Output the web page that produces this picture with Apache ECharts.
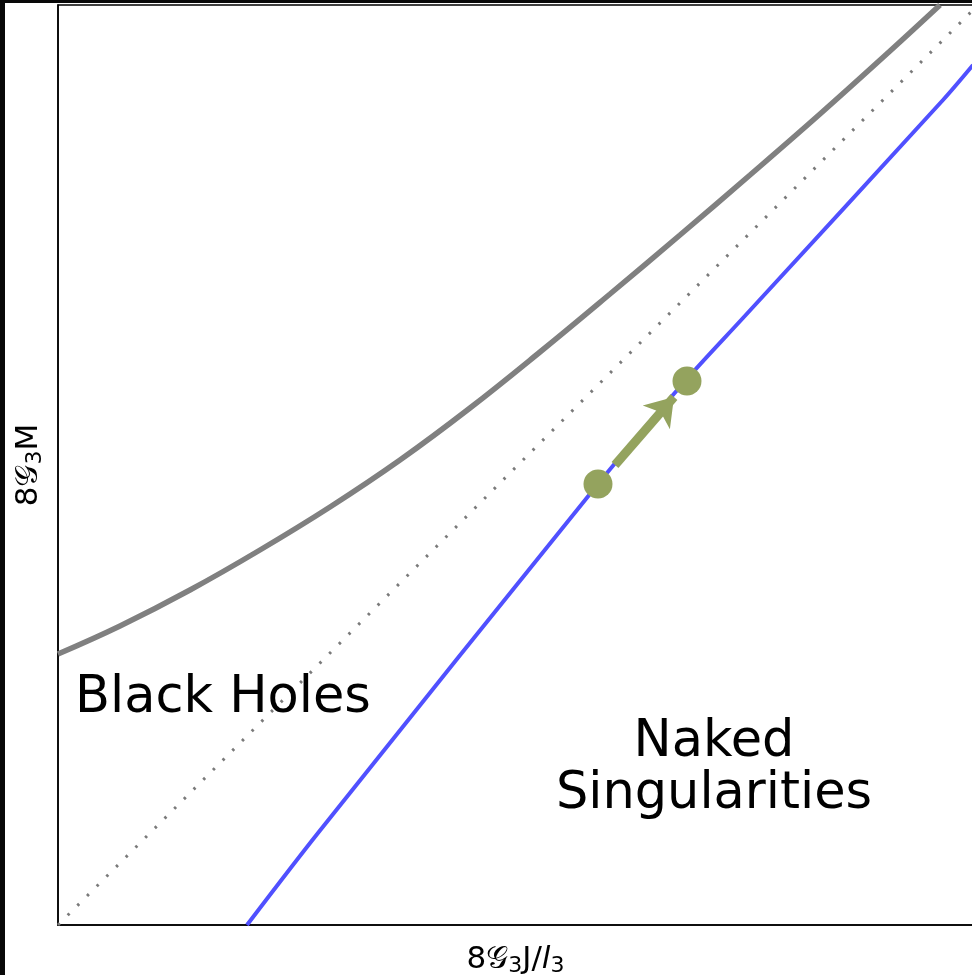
<!DOCTYPE html>
<html>
<head>
<meta charset="utf-8">
<style>
  html, body { margin: 0; padding: 0; background: #fff; }
  #chart { width: 972px; height: 975px; }
</style>
<script src="https://cdn.jsdelivr.net/npm/echarts@6/dist/echarts.min.js"></script>
</head>
<body>
<div id="chart"></div>
<script>
// Axis extents (plot units)
const xRange = [0, 9.15];
const yRange = [0, 9.2];

// Black-hole boundary curve (grey)
const boundaryCurve = [
  [0.00, 2.71], [0.62, 2.99], [1.32, 3.35], [2.02, 3.75], [2.72, 4.18],
  [3.42, 4.65], [4.12, 5.17], [4.82, 5.73], [5.52, 6.31], [6.22, 6.90],
  [6.92, 7.50], [7.62, 8.11], [8.32, 8.74], [8.82, 9.20]
];

// Extremal line M = J/l (dotted)
const extremalLine = [[0, 0], [9.2, 9.2]];

// Singular branch (blue)
const singularCurve = [
  [1.89, 0.00], [2.60, 0.92], [5.40, 4.41], [6.28, 5.45], [6.85, 6.07],
  [8.85, 8.25], [9.15, 8.60]
];

// Two states on the blue branch and the flow between them
const states = [[5.40, 4.41], [6.29, 5.44]];
const flowArrow = [[5.57, 4.60], [6.16, 5.28]];

// Region labels
const regionLabels = ['Black Holes', 'Naked', 'Singularities'];

// Axis titles (rich-text tokens)
const xTitle = '{n|8𝒢}{s|3}{n|J/}{i|l}{s|3}';
const yTitle = '{n|8𝒢}{s|3}{n|M}';

const FONT = 'DejaVu Sans';
const GREEN = '#94a35e';

const titleRich = {
  n: { fontFamily: FONT, fontSize: 31, lineHeight: 34, color: '#000' },
  i: { fontFamily: FONT, fontSize: 31, lineHeight: 34, fontStyle: 'italic', color: '#000' },
  s: { fontFamily: FONT, fontSize: 22, lineHeight: 22, verticalAlign: 'bottom', color: '#000' }
};

const chart = echarts.init(document.getElementById('chart'), null, { renderer: 'canvas' });

chart.setOption({
  animation: false,
  backgroundColor: '#ffffff',
  grid: {
    left: 58, top: 5, right: -1, bottom: 50,
    containLabel: false, outerBoundsMode: 'none',
    show: true, borderColor: '#000', borderWidth: 1.5, backgroundColor: '#fff'
  },
  xAxis: {
    type: 'value', min: xRange[0], max: xRange[1],
    name: xTitle, nameLocation: 'middle', nameGap: 18,
    nameTextStyle: { fontFamily: FONT, fontSize: 31, color: '#000', rich: titleRich },
    axisLine: { show: true, onZero: false, lineStyle: { color: '#000', width: 1.5 } },
    axisTick: { show: false }, axisLabel: { show: false }, splitLine: { show: false }
  },
  yAxis: {
    type: 'value', min: yRange[0], max: yRange[1],
    name: yTitle, nameLocation: 'middle', nameGap: 12, nameRotate: 90,
    nameTextStyle: { fontFamily: FONT, fontSize: 31, color: '#000', rich: titleRich },
    axisLine: { show: true, onZero: false, lineStyle: { color: '#000', width: 1.5 } },
    axisTick: { show: false }, axisLabel: { show: false }, splitLine: { show: false }
  },
  series: [
    {
      type: 'line', data: boundaryCurve, smooth: 0.4, symbol: 'none',
      lineStyle: { color: '#808080', width: 5.5 }, z: 2
    },
    {
      type: 'line', data: extremalLine, symbol: 'none',
      lineStyle: { color: '#7a7a7a', width: 3, type: [2.5, 11.2], cap: 'butt' }, z: 2
    },
    {
      type: 'line', data: singularCurve, smooth: 0.3, symbol: 'none',
      lineStyle: { color: '#5050ff', width: 4 }, z: 3
    },
    {
      type: 'lines', coordinateSystem: 'cartesian2d', z: 4,
      symbol: ['none', 'arrow'], symbolSize: [27, 27],
      lineStyle: { color: GREEN, width: 9, opacity: 1, curveness: 0 },
      data: [{ coords: flowArrow }]
    },
    {
      type: 'scatter', data: states, symbolSize: 29, z: 5,
      itemStyle: { color: GREEN, opacity: 1 }
    }
  ],
  graphic: [
    { type: 'rect', left: 0, top: 0, shape: { width: 5, height: 975 }, style: { fill: '#080808' }, z: 100 },
    { type: 'rect', left: 0, top: 0, shape: { width: 972, height: 3 }, style: { fill: '#080808' }, z: 100 },
    {
      type: 'text', x: 75, y: 699, z: 50,
      style: { text: regionLabels[0], font: '51px "DejaVu Sans"', fill: '#000', textAlign: 'left', textVerticalAlign: 'middle' }
    },
    {
      type: 'text', x: 714, y: 743, z: 50,
      style: { text: regionLabels[1], font: '51px "DejaVu Sans"', fill: '#000', textAlign: 'center', textVerticalAlign: 'middle' }
    },
    {
      type: 'text', x: 714, y: 795, z: 50,
      style: { text: regionLabels[2], font: '51px "DejaVu Sans"', fill: '#000', textAlign: 'center', textVerticalAlign: 'middle' }
    }
  ]
});
</script>
</body>
</html>
